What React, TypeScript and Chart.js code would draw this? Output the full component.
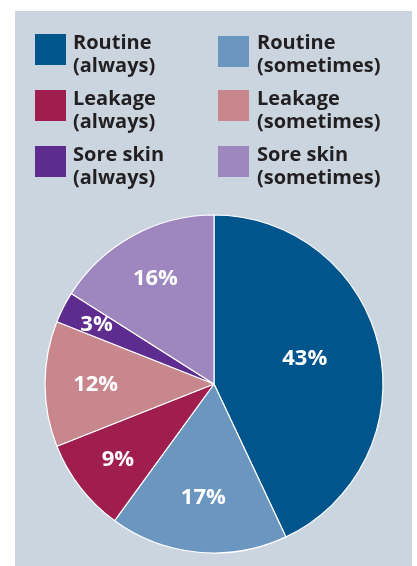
import React, { useEffect, useRef } from "react";
import { Chart, registerables } from "chart.js";

Chart.register(...registerables);

const CATEGORIES = ["Routine", "Routine", "Leakage", "Leakage", "Sore skin", "Sore skin"];
const FREQUENCIES = ["(always)", "(sometimes)", "(always)", "(sometimes)", "(always)", "(sometimes)"];
const VALUES = [43, 17, 9, 12, 3, 16];
const COLORS = ["#00568C", "#6A96C0", "#A01E4E", "#C8868D", "#5E2C8E", "#9E86BE"];
const LABEL_DISTANCE = [0.55, 0.67, 0.72, 0.7, 0.78, 0.72];
const LABEL_NUDGE_Y = [-6, 0, 0, 0, 0, 0];

const BG = "#CBD5DF";
const TEXT = "#231F20";
const FONT = "'Open Sans', 'DejaVu Sans', sans-serif";

const legendPlugin = {
  id: "customLegend",
  afterDraw(chart: any) {
    const ctx = chart.ctx;
    ctx.save();
    ctx.font = `bold 20px ${FONT}`;
    ctx.textBaseline = "alphabetic";
    ctx.textAlign = "left";
    const colBox = [20, 203];
    const colText = [58, 242];
    for (let i = 0; i < CATEGORIES.length; i++) {
      const col = i % 2;
      const row = Math.floor(i / 2);
      const top = 23 + row * 56;
      ctx.fillStyle = COLORS[i];
      ctx.fillRect(colBox[col], top + (row === 0 && col === 1 ? 2 : 0), 31, 31);
      ctx.fillStyle = TEXT;
      ctx.fillText(CATEGORIES[i], colText[col], top + 14.5);
      ctx.fillText(FREQUENCIES[i], colText[col], top + 38);
    }
    ctx.restore();
  },
};

const labelPlugin = {
  id: "sliceLabels",
  afterDatasetsDraw(chart: any) {
    const ctx = chart.ctx;
    const meta = chart.getDatasetMeta(0);
    ctx.save();
    ctx.font = `bold 22px ${FONT}`;
    ctx.fillStyle = "#FFFFFF";
    ctx.textAlign = "center";
    ctx.textBaseline = "middle";
    meta.data.forEach((arc: any, i: number) => {
      const p = arc.getProps(["x", "y", "startAngle", "endAngle", "outerRadius"], true);
      const mid = (p.startAngle + p.endAngle) / 2;
      const r = p.outerRadius * LABEL_DISTANCE[i];
      ctx.fillText(
        `${VALUES[i]}%`,
        p.x + Math.cos(mid) * r,
        p.y + Math.sin(mid) * r + 1 + LABEL_NUDGE_Y[i]
      );
    });
    ctx.restore();
  },
};

export default function App() {
  const ref = useRef<HTMLCanvasElement | null>(null);
  useEffect(() => {
    if (!ref.current) return;
    const chart = new Chart(ref.current, {
      type: "pie",
      data: {
        labels: CATEGORIES.map((c, i) => `${c} ${FREQUENCIES[i]}`),
        datasets: [
          {
            data: VALUES,
            backgroundColor: COLORS,
            borderColor: "#FFFFFF",
            borderWidth: 1.2,
          },
        ],
      },
      options: {
        animation: false,
        responsive: true,
        maintainAspectRatio: false,
        radius: 169,
        layout: { padding: { left: 1, right: 0, top: 196, bottom: 5 } },
        plugins: {
          legend: { display: false },
          tooltip: { enabled: false },
        },
      } as any,
      plugins: [legendPlugin, labelPlugin],
    });
    return () => chart.destroy();
  }, []);
  return (
    <div
      style={{
        position: "absolute",
        left: 15,
        top: 11,
        width: 397,
        height: 555,
        background: BG,
      }}
    >
      <canvas ref={ref} />
    </div>
  );
}
